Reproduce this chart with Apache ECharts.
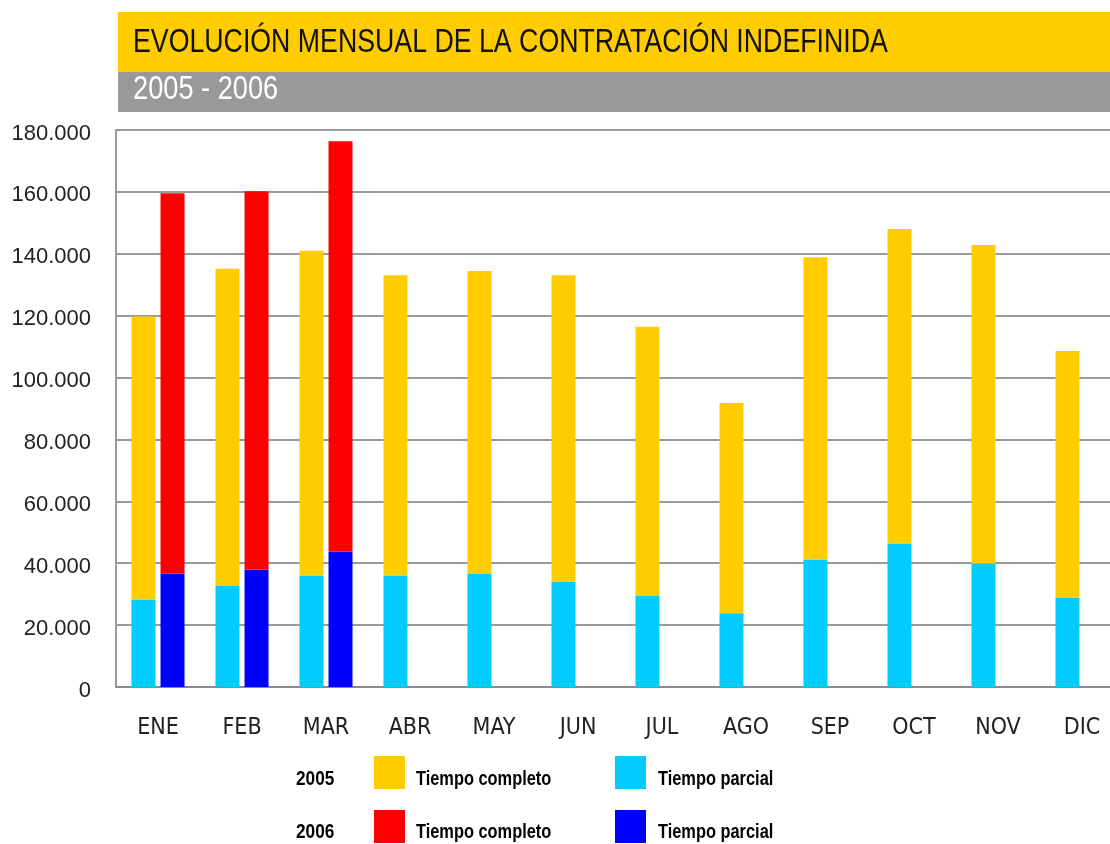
<!DOCTYPE html>
<html>
<head>
<meta charset="utf-8">
<title>Evolución mensual de la contratación indefinida</title>
<script src="https://cdn.jsdelivr.net/npm/echarts@6/dist/echarts.min.js"></script>
<style>
  html, body { margin: 0; padding: 0; background: #fff; }
  #chart { width: 1110px; height: 844px; }
</style>
</head>
<body>
<div id="chart"></div>
<script>
// meses y valores
const months = ['ENE', 'FEB', 'MAR', 'ABR', 'MAY', 'JUN', 'JUL', 'AGO', 'SEP', 'OCT', 'NOV', 'DIC'];
const parcial2005 = [28300, 32800, 36000, 36000, 36700, 34100, 29600, 23800, 41200, 46400, 39900, 28900];
const completo2005 = [91400, 102400, 105000, 97100, 97700, 99000, 86800, 68000, 97700, 101600, 102900, 79700];
const parcial2006 = [36700, 38000, 43800, null, null, null, null, null, null, null, null, null];
const completo2006 = [122900, 122200, 132600, null, null, null, null, null, null, null, null, null];
const yTicks = [0, 20000, 180000];

const condensed = '"DejaVu Sans Condensed", sans-serif';
const arial = '"Liberation Sans", Arial, sans-serif';

function miles(v) {
    return '{v|' + String(v).replace(/\B(?=(\d{3})+(?!\d))/g, '.') + '}';
}

// texto estrecho: Liberation Sans comprimido en horizontal
function narrowText(str, x, y, size, bold, color, sx) {
    return {
        type: 'text', x: x, y: y, scaleX: sx,
        style: {
            text: str,
            font: (bold ? 'bold ' : '') + size + 'px ' + arial,
            fill: color,
            verticalAlign: 'middle'
        }
    };
}

function legendItem(name, left, top) {
    return {
        data: [name],
        left: left,
        top: top,
        padding: 0,
        itemWidth: 31,
        itemHeight: 33,
        icon: 'rect',
        selectedMode: false,
        formatter: function () { return ''; }
    };
}

const chart = echarts.init(document.getElementById('chart'));

chart.setOption({
    animation: false,
    backgroundColor: '#fff',
    graphic: [
        { type: 'rect', left: 118, top: 12, shape: { width: 992, height: 60 }, style: { fill: '#FFCC00' } },
        { type: 'rect', left: 118, top: 72, shape: { width: 992, height: 40 }, style: { fill: '#999999' } },
        narrowText('EVOLUCIÓN MENSUAL DE LA CONTRATACIÓN INDEFINIDA', 133, 43, 34, false, '#111', 0.786),
        narrowText('2005 - 2006', 133, 90, 34, false, '#fff', 0.8),
        narrowText('2005', 296, 779, 21, true, '#000', 0.82),
        narrowText('2006', 296, 832, 21, true, '#000', 0.82),
        narrowText('Tiempo completo', 416, 779, 21, true, '#000', 0.78),
        narrowText('Tiempo parcial', 658, 779, 21, true, '#000', 0.78),
        narrowText('Tiempo completo', 416, 832, 21, true, '#000', 0.78),
        narrowText('Tiempo parcial', 658, 832, 21, true, '#000', 0.78)
    ],
    legend: [
        legendItem('Tiempo completo 2005', 374, 756),
        legendItem('Tiempo parcial 2005', 615, 756),
        legendItem('Tiempo completo 2006', 374, 810),
        legendItem('Tiempo parcial 2006', 615, 810)
    ],
    grid: {
        left: 116,
        width: 1008,
        top: 130,
        bottom: 157,
        outerBoundsMode: 'none',
        containLabel: false
    },
    xAxis: {
        type: 'category',
        data: months,
        axisLine: { lineStyle: { color: '#8c8c8c', width: 2 } },
        axisTick: { show: false },
        axisLabel: {
            margin: 30,
            fontFamily: condensed,
            fontSize: 23,
            color: '#222'
        }
    },
    yAxis: {
        type: 'value',
        min: yTicks[0],
        max: yTicks[2],
        interval: yTicks[1],
        axisLine: { show: true, lineStyle: { color: '#999', width: 2 } },
        axisTick: { show: false },
        splitLine: { lineStyle: { color: '#9a9a9a', width: 2 } },
        axisLabel: {
            margin: 25,
            color: '#222',
            formatter: miles,
            rich: {
                v: {
                    fontFamily: arial,
                    fontSize: 22,
                    color: '#222',
                    padding: [7, 0, 0, 0]
                }
            }
        }
    },
    series: [
        {
            name: 'Tiempo parcial 2005', type: 'bar', stack: '2005',
            barWidth: 24, barGap: '21%',
            itemStyle: { color: '#00CCFF' },
            data: parcial2005
        },
        {
            name: 'Tiempo completo 2005', type: 'bar', stack: '2005',
            barWidth: 24, barGap: '21%',
            itemStyle: { color: '#FFCC00' },
            data: completo2005
        },
        {
            name: 'Tiempo parcial 2006', type: 'bar', stack: '2006',
            barWidth: 24, barGap: '21%',
            itemStyle: { color: '#0000FF' },
            data: parcial2006
        },
        {
            name: 'Tiempo completo 2006', type: 'bar', stack: '2006',
            barWidth: 24, barGap: '21%',
            itemStyle: { color: '#FF0000' },
            data: completo2006
        }
    ]
});
</script>
</body>
</html>
